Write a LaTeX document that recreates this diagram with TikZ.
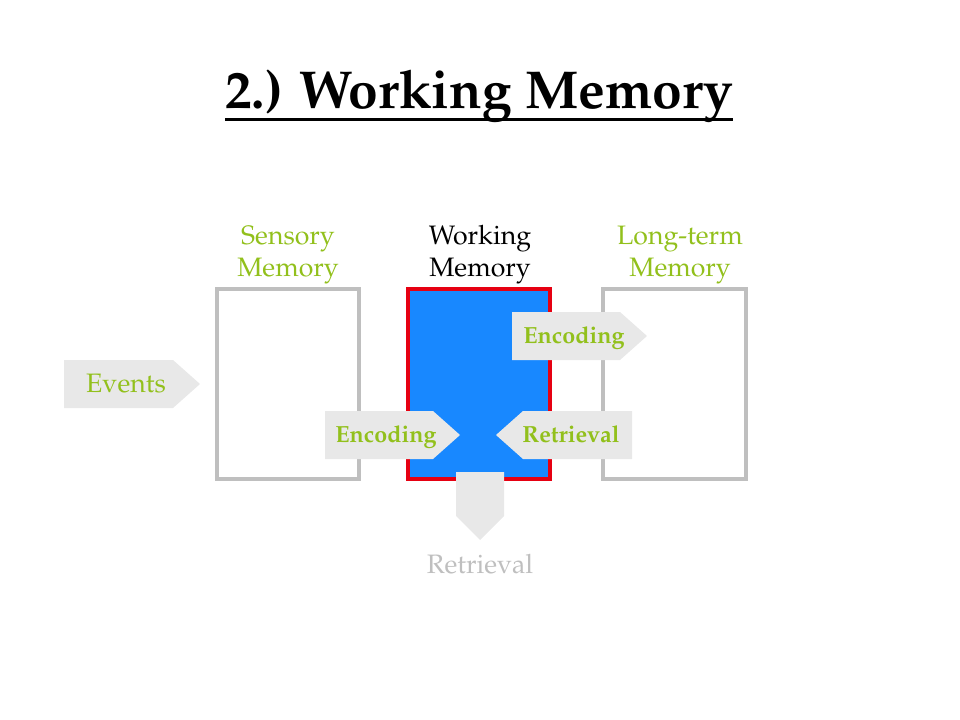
\documentclass[tikz,border=0pt]{standalone}
\usepackage[T1]{fontenc}
\usepackage{mathpazo}
\definecolor{lgreen}{RGB}{146,192,28}
\definecolor{bxgray}{RGB}{191,191,191}
\definecolor{arrgray}{RGB}{232,232,232}
\definecolor{wmblue}{RGB}{24,136,255}
\definecolor{wmred}{RGB}{230,0,18}
\tikzset{
  memlabel/.style={align=center,font=\fontsize{20}{24}\selectfont,inner sep=0pt},
  membox/.style={draw=bxgray,line width=3pt},
  blockarrow/.style={fill=arrgray,draw=none},
  arrlabel/.style={font=\fontsize{17.5}{20}\selectfont\bfseries,text=lgreen,inner sep=0pt,anchor=base},
}
\begin{document}
\begin{tikzpicture}[x=0.75pt,y=-0.75pt]
\useasboundingbox (0,0) rectangle (960,720);
% title
\node[anchor=base,inner sep=0pt,font=\fontsize{40}{48}\selectfont\bfseries] (title) at (479,109) {2.) Working Memory};
\draw[line width=2.2pt] ([yshift=-8pt]title.base west) -- ([yshift=-8pt]title.base east);
% column labels
\node[memlabel,text=lgreen] (sensl) at (288,255) {Sensory\\Memory};
\node[memlabel,text=black] (workl) at (480,255) {Working\\Memory};
\node[memlabel,text=lgreen] (longl) at (680,255) {Long-term\\Memory};
% boxes
\draw[membox] (217,289) rectangle (359,479);
\node[inner sep=0pt] (sens) at (288,384) {};
\draw[draw=wmred,fill=wmblue,line width=3pt] (408,289) rectangle (550,479);
\node[inner sep=0pt] (work) at (479,384) {};
\draw[membox] (603,289) rectangle (746,479);
\node[inner sep=0pt] (long) at (674,384) {};
% block arrows
\fill[blockarrow] (64,360) -- (173,360) -- (200,384) -- (173,408) -- (64,408) -- cycle;
\node[anchor=base,inner sep=0pt,font=\fontsize{20}{24}\selectfont,text=lgreen] (events) at (126,392) {Events};
\fill[blockarrow] (512,312) -- (620,312) -- (647,336) -- (620,360) -- (512,360) -- cycle;
\node[arrlabel] (enc1) at (574,343) {Encoding};
\fill[blockarrow] (325,411) -- (433,411) -- (460,435) -- (433,459) -- (325,459) -- cycle;
\node[arrlabel] (enc2) at (386,442) {Encoding};
\fill[blockarrow] (496,435) -- (523,411) -- (632,411) -- (632,459) -- (523,459) -- cycle;
\node[arrlabel] (ret1) at (571,442) {Retrieval};
\fill[blockarrow] (456,472) -- (504,472) -- (504,516) -- (480,540) -- (456,516) -- cycle;
\node[anchor=base,inner sep=0pt,font=\fontsize{20}{24}\selectfont,text=bxgray] (ret2) at (480,573) {Retrieval};
\end{tikzpicture}
\end{document}
